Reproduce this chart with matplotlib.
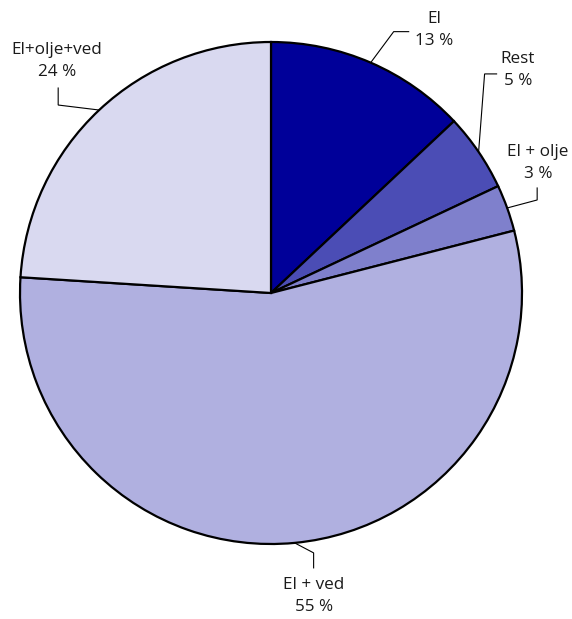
import numpy as np
import matplotlib.pyplot as plt

plt.rcParams['font.family'] = ['Open Sans', 'DejaVu Sans']

labels = ['El', 'Rest', 'El + olje', 'El + ved', 'El+olje+ved']
shares = [13, 5, 3, 55, 24]
colors = ['#000099', '#4b4db5', '#7f80cc', '#b0b0e0', '#d9d9f0']

# leader elbows (relative to edge point, px) and label centres (px)
elbows = [[(23, -31), (38, -31)],
          [(6, -78), (18, -78)],
          [(30, -8), (30, -20)],
          [(19, 10), (19, 25)],
          [(-41, -5), (-41, -22)]]
text_pos = [(434, 30), (518, 70), (538, 163), (314, 596), (57, 61)]

W, H = 572, 619
cx, cy, R = 271, 293, 251

fig = plt.figure(figsize=(W / 100, H / 100), dpi=100)
ax = fig.add_axes([0, 0, 1, 1])

wedges, _ = ax.pie(shares, colors=colors, startangle=90, counterclock=False,
                   radius=1, center=(0, 0),
                   wedgeprops=dict(edgecolor='black', linewidth=1.6))

ax.set_xlim(-cx / R, (W - cx) / R)
ax.set_ylim((cy - H) / R, cy / R)
ax.set_aspect('auto')
ax.axis('off')


def px(x, y):
    return (x - cx) / R, (cy - y) / R


for w, lab, val, el, tp in zip(wedges, labels, shares, elbows, text_pos):
    mid = np.deg2rad((w.theta1 + w.theta2) / 2)
    ex, ey = cx + R * np.cos(mid), cy - R * np.sin(mid)
    pts = [(ex, ey)] + [(ex + dx, ey + dy) for dx, dy in el]
    xs, ys = zip(*[px(x, y) for x, y in pts])
    ax.plot(xs, ys, color='black', lw=0.8, solid_joinstyle='miter')
    tx, ty = px(*tp)
    ax.text(tx, ty, f'{lab}\n{val} %', ha='center', va='center',
            fontsize=12.3, linespacing=1.45, color='#1a1a1a')

fig.savefig('out.png', dpi=100)
